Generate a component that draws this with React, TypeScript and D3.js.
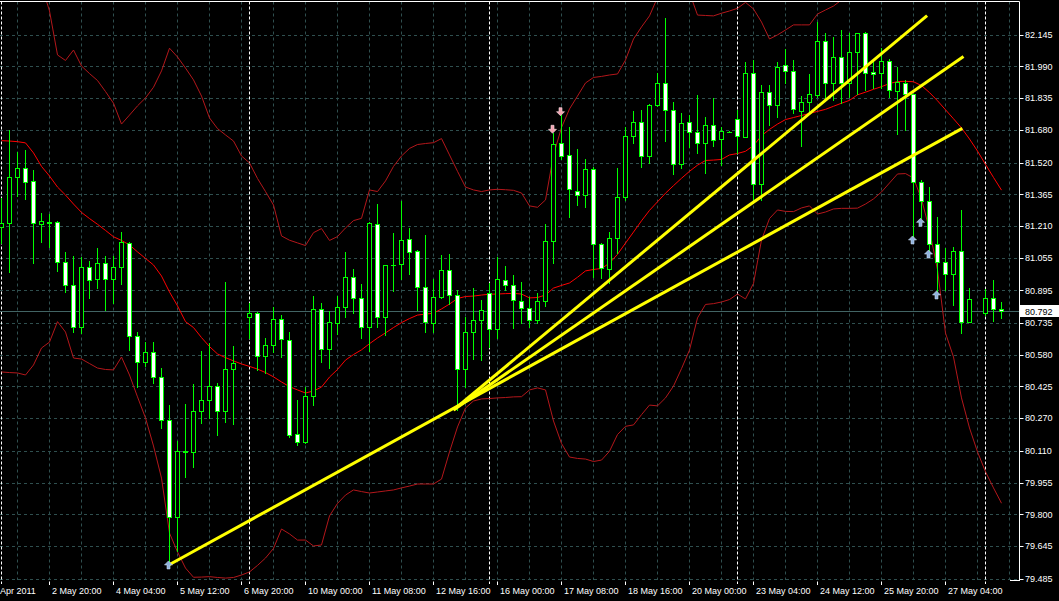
import * as d3 from "d3";

const W = 1059;
const H = 601;

// price axis
const priceTicks = [
  82.145, 81.99, 81.835, 81.68, 81.52, 81.365, 81.21, 81.055, 80.895,
  80.735, 80.58, 80.425, 80.27, 80.11, 79.955, 79.8, 79.645, 79.485,
];
const bidPrice = 80.792;

// time axis (bar slots)
const timeLabelSlots = [-2, 6, 14, 22, 30, 38, 46, 54, 62, 70, 78, 86, 94, 102, 110, 118];
const timeLabels = [
  "29 Apr 2011", "2 May 20:00", "4 May 04:00", "5 May 12:00", "6 May 20:00",
  "10 May 00:00", "11 May 08:00", "12 May 16:00", "16 May 00:00", "17 May 08:00",
  "18 May 16:00", "20 May 00:00", "23 May 04:00", "24 May 12:00", "25 May 20:00",
  "27 May 04:00",
];
const separatorSlots = [0, 31, 61, 92, 123];

// H4 candles, one slot per bar (null = no bar drawn)
const opens = [
  81.206, 81.223, 81.448, 81.492, 81.43, 81.218, 81.226, 81.228, 81.032, 80.92,
  80.714, 81.008, 80.949, 81.027, 80.949, 81.008, 81.128, 80.672, 80.543, 80.592,
  80.47, 80.261, 79.788, 80.103, 80.103, 80.307, 80.358, 80.426, 80.304, 80.509,
  null, 80.763, 80.783, 80.574, 80.626, 80.753, 80.651, 80.193, 80.155, 80.378,
  80.802, 80.607, 80.737, 80.812, 80.962, 80.856, 80.717, 81.218, 80.763, 81.019,
  81.022, 81.145, 81.086, 80.91, 80.737, 80.861, 80.995, 80.872, 80.509, 80.69,
  80.75, 80.884, 80.705, 80.946, 80.923, 80.845, 80.807, 80.75, 80.845, 81.135,
  81.614, 81.556, 81.382, 81.36, 81.49, 81.12, 80.998, 81.15, 81.35, 81.648,
  81.72, 81.554, 81.8, 81.907, 81.776, 81.511, 81.717, 81.668, 81.614, 81.702,
  81.634, 81.671, 81.733, 81.646, 81.956, 81.414, 81.864, 81.8, 81.996, 81.966,
  81.774, 81.815, 81.85, 82.116, 81.911, 82.035, 81.911, 82.062, 82.152, 81.961,
  81.956, 82.018, 81.871, 81.911, 81.854, 81.427, 81.334, 81.123, 81.032, 80.974,
  81.088, 80.742, null, 80.783, 80.859, 80.806,
];
const highs = [
  81.347, 81.679, 81.573, 81.582, 81.484, 81.275, 81.269, 81.234, 81.083, 81.063,
  81.057, 81.039, 81.101, 81.063, 81.063, 81.179, 81.133, 80.693, 80.644, 80.641,
  80.514, 80.334, 80.16, 80.339, 80.437, 80.6, 80.636, 80.441, 80.937, 80.623,
  null, 80.832, 80.788, 80.661, 80.815, 80.775, 80.69, 80.359, 80.424, 80.867,
  80.832, 80.794, 80.867, 81.084, 80.998, 80.926, 81.229, 81.317, 81.019, 81.174,
  81.334, 81.199, 81.092, 81.166, 80.951, 81.068, 81.073, 80.897, 80.766, 80.908,
  80.848, 80.93, 81.057, 81.014, 80.97, 80.934, 80.864, 80.881, 81.22, 81.663,
  81.753, 81.693, 81.585, 81.536, 81.498, 81.127, 81.182, 81.492, 81.695, 81.774,
  81.777, 81.806, 81.956, 82.225, 81.818, 81.761, 81.751, 81.85, 81.741, 81.834,
  81.693, 81.674, 81.777, 82.013, 82.021, 81.899, 81.899, 82.013, 82.074, 82.021,
  81.847, 81.953, 82.209, 82.152, 82.136, 82.168, 82.152, 82.154, 82.157, 82.021,
  82.079, 82.025, 81.989, 81.924, 81.855, 81.435, 81.402, 81.255, 81.101, 81.109,
  81.288, 80.905, null, 80.903, 80.946, 80.84,
];
const lows = [
  81.127, 80.986, 81.357, 81.342, 81.03, 81.133, 81.109, 80.991, 80.888, 80.693,
  80.685, 80.859, 80.905, 80.799, 80.832, 80.925, 80.604, 80.421, 80.525, 80.442,
  80.223, 79.562, 79.622, 79.984, 80.033, 80.248, 80.27, 80.188, 80.25, 80.24,
  null, 80.661, 80.506, 80.493, 80.595, 80.571, 80.18, 80.139, 80.149, 80.334,
  80.546, 80.514, 80.682, 80.766, 80.783, 80.661, 80.6, 80.717, 80.677, 80.893,
  80.949, 80.975, 80.799, 80.693, 80.693, 80.856, 80.828, 80.31, 80.424, 80.558,
  80.554, 80.62, 80.661, 80.897, 80.71, 80.734, 80.717, 80.734, 80.819, 81.027,
  81.536, 81.252, 81.313, 81.304, 80.962, 80.954, 80.93, 81.076, 81.337, 81.614,
  81.5, 81.519, 81.797, 81.627, 81.464, 81.492, 81.598, 81.568, 81.467, 81.602,
  81.508, 81.668, 81.565, 81.644, 81.321, 81.337, 81.704, 81.744, 81.907, 81.761,
  81.602, 81.761, 81.842, 81.826, 81.826, 81.81, 81.842, 81.854, 81.875, 81.883,
  81.883, 81.839, 81.66, 81.679, 81.15, 81.247, 81.076, 80.881, 80.897, 80.824,
  80.688, 80.74, null, 80.775, 80.747, 80.758,
];
const closes = [
  81.223, 81.448, 81.492, 81.427, 81.223, 81.233, 81.229, 81.032, 80.92, 80.714,
  81.008, 80.944, 81.027, 80.949, 81.008, 81.13, 80.672, 80.543, 80.592, 80.47,
  80.261, 79.788, 80.111, 80.111, 80.304, 80.359, 80.426, 80.304, 80.509, 80.538,
  null, 80.783, 80.574, 80.626, 80.753, 80.656, 80.188, 80.155, 80.378, 80.802,
  80.607, 80.739, 80.815, 80.962, 80.856, 80.717, 81.223, 80.763, 81.018, 81.017,
  81.14, 81.081, 80.91, 80.742, 80.861, 80.995, 80.872, 80.509, 80.69, 80.75,
  80.799, 80.705, 80.949, 80.92, 80.848, 80.807, 80.75, 80.845, 81.135, 81.609,
  81.554, 81.389, 81.36, 81.49, 81.12, 81.003, 81.15, 81.35, 81.65, 81.717,
  81.552, 81.8, 81.907, 81.776, 81.511, 81.715, 81.668, 81.614, 81.702, 81.63,
  81.674, 81.671, 81.65, 81.956, 81.414, 81.864, 81.8, 81.986, 81.968, 81.78,
  81.815, 81.854, 82.116, 81.911, 82.035, 81.911, 82.062, 82.152, 81.956, 81.952,
  82.018, 81.875, 81.915, 81.854, 81.427, 81.334, 81.12, 81.032, 80.974, 81.088,
  80.742, 80.851, null, 80.859, 80.802, 80.792,
];

// Bollinger bands, one value per slot
const bbMiddle = [
  81.627, 81.625, 81.622, 81.616, 81.567, 81.501, 81.454, 81.4, 81.361, 81.317,
  81.276, 81.246, 81.218, 81.188, 81.157, 81.139, 81.117, 81.083, 81.051, 81.019,
  80.965, 80.887, 80.819, 80.742, 80.713, 80.664, 80.62, 80.584, 80.566, 80.55,
  80.535, 80.523, 80.51, 80.493, 80.472, 80.447, 80.424, 80.408, 80.393, 80.403,
  80.422, 80.471, 80.508, 80.554, 80.581, 80.604, 80.634, 80.662, 80.687, 80.713,
  80.737, 80.757, 80.774, 80.779, 80.783, 80.804, 80.828, 80.855, 80.865, 80.867,
  80.872, 80.876, 80.877, 80.879, 80.88, 80.877, 80.858, 80.86, 80.872, 80.906,
  80.919, 80.931, 80.959, 80.99, 80.997, 81.002, 81.028, 81.071, 81.126, 81.18,
  81.235, 81.286, 81.328, 81.37, 81.407, 81.443, 81.477, 81.507, 81.53, 81.532,
  81.535, 81.557, 81.564, 81.575, 81.603, 81.651, 81.682, 81.708, 81.73, 81.74,
  81.75, 81.76, 81.77, 81.78, 81.795, 81.81, 81.824, 81.851, 81.864, 81.878,
  81.891, 81.906, 81.916, 81.917, 81.915, 81.896, 81.862, 81.822, 81.778, 81.734,
  81.689, 81.635, 81.576, 81.511, 81.447, 81.385,
];
const bbUpper = [
  82.755, 82.755, 82.755, 82.75, 82.603, 82.388, 82.261, 82.046, 82.019, 82.07,
  81.992, 81.955, 81.921, 81.867, 81.81, 81.708, 81.752, 81.797, 81.836, 81.888,
  81.968, 82.079, 82.036, 81.982, 81.924, 81.845, 81.738, 81.686, 81.655, 81.625,
  81.552, 81.518, 81.442, 81.378, 81.312, 81.161, 81.14, 81.127, 81.114, 81.177,
  81.197, 81.139, 81.158, 81.2, 81.236, 81.247, 81.386, 81.378, 81.43, 81.501,
  81.552, 81.589, 81.608, 81.613, 81.617, 81.637, 81.557, 81.477, 81.4, 81.386,
  81.378, 81.386, 81.389, 81.387, 81.384, 81.371, 81.308, 81.301, 81.337, 81.557,
  81.691, 81.782, 81.845, 81.909, 81.936, 81.941, 81.948, 81.953, 82.021, 82.124,
  82.183, 82.237, 82.327, 82.372, 82.387, 82.373, 82.351, 82.241, 82.239, 82.237,
  82.25, 82.261, 82.274, 82.303, 82.271, 82.207, 82.124, 82.144, 82.168, 82.193,
  82.193, 82.193, 82.246, 82.266, 82.285, 82.315, 82.353, 82.406, 82.411, 82.414,
  82.407, 82.392, 82.368, 82.368, 82.386, 82.45, 82.535, 82.65, 82.87, 82.9,
  83.009, 83.048, 83.048, 83.014, 82.965, 82.916,
];
const bbLower = [
  80.496, 80.493, 80.491, 80.481, 80.53, 80.613, 80.642, 80.742, 80.691, 80.564,
  80.559, 80.537, 80.515, 80.508, 80.506, 80.569, 80.481, 80.374, 80.271, 80.134,
  79.977, 79.708, 79.616, 79.537, 79.492, 79.493, 79.495, 79.491, 79.488, 79.491,
  79.503, 79.518, 79.55, 79.586, 79.633, 79.728, 79.704, 79.674, 79.674, 79.645,
  79.65, 79.792, 79.853, 79.894, 79.919, 79.911, 79.904, 79.909, 79.914, 79.919,
  79.929, 79.938, 79.948, 79.948, 79.948, 79.972, 80.105, 80.227, 80.32, 80.354,
  80.364, 80.366, 80.369, 80.371, 80.374, 80.375, 80.408, 80.418, 80.408, 80.256,
  80.146, 80.08, 80.073, 80.07, 80.058, 80.065, 80.108, 80.19, 80.23, 80.237,
  80.287, 80.334, 80.33, 80.369, 80.427, 80.512, 80.603, 80.76, 80.826, 80.83,
  80.838, 80.85, 80.877, 80.853, 80.929, 81.141, 81.246, 81.288, 81.281, 81.28,
  81.298, 81.308, 81.268, 81.278, 81.293, 81.296, 81.296, 81.297, 81.317, 81.342,
  81.376, 81.42, 81.464, 81.466, 81.444, 81.342, 81.19, 80.995, 80.686, 80.569,
  80.369, 80.222, 80.105, 80.008, 79.929, 79.854,
];

// trend lines: [slot, price] anchors
const trendFrom = [
  [20.9, 79.552],
  [56.5, 80.31],
  [56.5, 80.31],
];
const trendTo = [
  [120.1, 81.687],
  [120.25, 82.038],
  [115.7, 82.238],
];

// arrow objects (tip price)
const upArrowSlots = [21, 114, 115, 116, 117];
const upArrowPrices = [79.572, 81.161, 81.247, 81.092, 80.892];
const downArrowSlots = [69, 70];
const downArrowPrices = [81.663, 81.749];

const LIME = "#00ff00";
const GRID = "#2f4f4f";
const FONT = "'Liberation Sans', Arial, sans-serif";

export default function App() {
  const plotRight = 1019.5;
  const plotTop = 1.5;
  const plotBottom = 580;

  const x = d3.scaleLinear().domain([0, 125]).range([1.5, 1001.5]);
  const y = d3.scaleLinear().domain([79.485, 82.145]).range([578.7, 34.7]);
  const fmt = d3.format(".3f");
  const crisp = (v: number) => Math.round(v) + 0.5;

  const band = d3
    .line<number>()
    .x((_, i) => x(i))
    .y((d) => y(d));

  const gridSlots = d3.range(2, 127, 4);

  return (
    <div style={{ position: "fixed", left: 0, top: 0 }}>
      <svg width={W} height={H} style={{ display: "block", background: "#000" }}>
        <defs>
          <clipPath id="plot">
            <rect x={0} y={plotTop} width={plotRight} height={plotBottom - plotTop} />
          </clipPath>
        </defs>
        <rect x={0} y={0} width={W} height={H} fill="#000" />

        {/* grid */}
        <g stroke={GRID} strokeWidth={1} strokeDasharray="3,3">
          {priceTicks.map((p) => (
            <line key={p} x1={0} x2={plotRight} y1={crisp(y(p))} y2={crisp(y(p))} />
          ))}
          {gridSlots.map((s) => (
            <line key={s} x1={x(s)} x2={x(s)} y1={plotTop} y2={plotBottom} />
          ))}
        </g>

        {/* period separators */}
        <g stroke="#fff" strokeWidth={1} strokeDasharray="3,2">
          {separatorSlots.map((s) => (
            <line key={s} x1={x(s)} x2={x(s)} y1={plotTop} y2={plotBottom + 4} />
          ))}
        </g>

        {/* bid line */}
        <line x1={0} x2={plotRight} y1={crisp(y(bidPrice))} y2={crisp(y(bidPrice))} stroke="#426464" />

        <g clipPath="url(#plot)">
          {/* bollinger */}
          <path d={band(bbUpper) || ""} fill="none" stroke="#b3171b" strokeWidth={1} />
          <path d={band(bbLower) || ""} fill="none" stroke="#b3171b" strokeWidth={1} />
          <path d={band(bbMiddle) || ""} fill="none" stroke="#ff0000" strokeWidth={1} />

          {/* candles */}
          {opens.map((o, i) => {
            const c = closes[i];
            const h = highs[i];
            const l = lows[i];
            if (o == null || c == null || h == null || l == null) return null;
            const cx = x(i);
            const top = crisp(Math.min(y(o), y(c)));
            const bot = crisp(Math.max(y(o), y(c)));
            const bear = c < o;
            return (
              <g key={i}>
                <line x1={cx} x2={cx} y1={Math.round(y(h))} y2={Math.round(y(l)) + 1} stroke={LIME} />
                <rect
                  x={cx - 2}
                  y={top}
                  width={4}
                  height={Math.max(bot - top, 0.01)}
                  fill={bear ? "#fff" : "#000"}
                  stroke={LIME}
                  strokeWidth={1}
                />
              </g>
            );
          })}

          {/* trend lines */}
          {trendFrom.map((a, i) => (
            <line
              key={i}
              x1={x(a[0])}
              y1={y(a[1])}
              x2={x(trendTo[i][0])}
              y2={y(trendTo[i][1])}
              stroke="#ffff00"
              strokeWidth={3}
            />
          ))}

          {/* arrows */}
          {upArrowSlots.map((s, i) => {
            const ax = x(s) - 1;
            const ay = y(upArrowPrices[i]);
            return (
              <path
                key={"u" + i}
                transform={`translate(${ax},${ay})`}
                d="M0,0 L4,4 L1.5,4 L1.5,8 L-1.5,8 L-1.5,4 L-4,4 Z"
                fill="#8fb2dc"
                stroke="#c9dcf2"
                strokeWidth={0.6}
              />
            );
          })}
          {downArrowSlots.map((s, i) => {
            const ax = x(s) - 1;
            const ay = y(downArrowPrices[i]);
            return (
              <path
                key={"d" + i}
                transform={`translate(${ax},${ay})`}
                d="M0,0 L4,-4 L1.5,-4 L1.5,-8 L-1.5,-8 L-1.5,-4 L-4,-4 Z"
                fill="#f2a2b0"
                stroke="#fde0e6"
                strokeWidth={0.6}
              />
            );
          })}
        </g>

        {/* frame */}
        <line x1={0} x2={plotRight} y1={plotTop} y2={plotTop} stroke="#fff" />
        <line x1={plotRight} x2={plotRight} y1={plotTop} y2={plotBottom + 1} stroke="#fff" />
        <line x1={1010} x2={plotRight} y1={plotBottom + 0.5} y2={plotBottom + 0.5} stroke="#fff" />

        {/* price axis */}
        <g fontFamily={FONT} fontSize={9} fill="#fff">
          {priceTicks.map((p) => (
            <g key={p}>
              <line x1={plotRight} x2={plotRight + 4} y1={crisp(y(p))} y2={crisp(y(p))} stroke="#fff" />
              <text x={1025} y={y(p) + 3.3}>
                {fmt(p)}
              </text>
            </g>
          ))}
        </g>
        <rect x={1020} y={crisp(y(bidPrice)) - 6.5} width={39} height={12} fill="#fff" />
        <text x={1025} y={y(bidPrice) + 3.3} fontFamily={FONT} fontSize={9} fill="#000">
          {fmt(bidPrice)}
        </text>

        {/* time axis */}
        <g fontFamily={FONT} fontSize={9} fill="#fff">
          {timeLabelSlots.map((s, i) => (
            <g key={s}>
              <line x1={x(s)} x2={x(s)} y1={plotBottom + 1.5} y2={plotBottom + 5} stroke="#fff" />
              <text x={x(s) + 2.5} y={594}>
                {timeLabels[i]}
              </text>
            </g>
          ))}
        </g>
      </svg>
    </div>
  );
}
